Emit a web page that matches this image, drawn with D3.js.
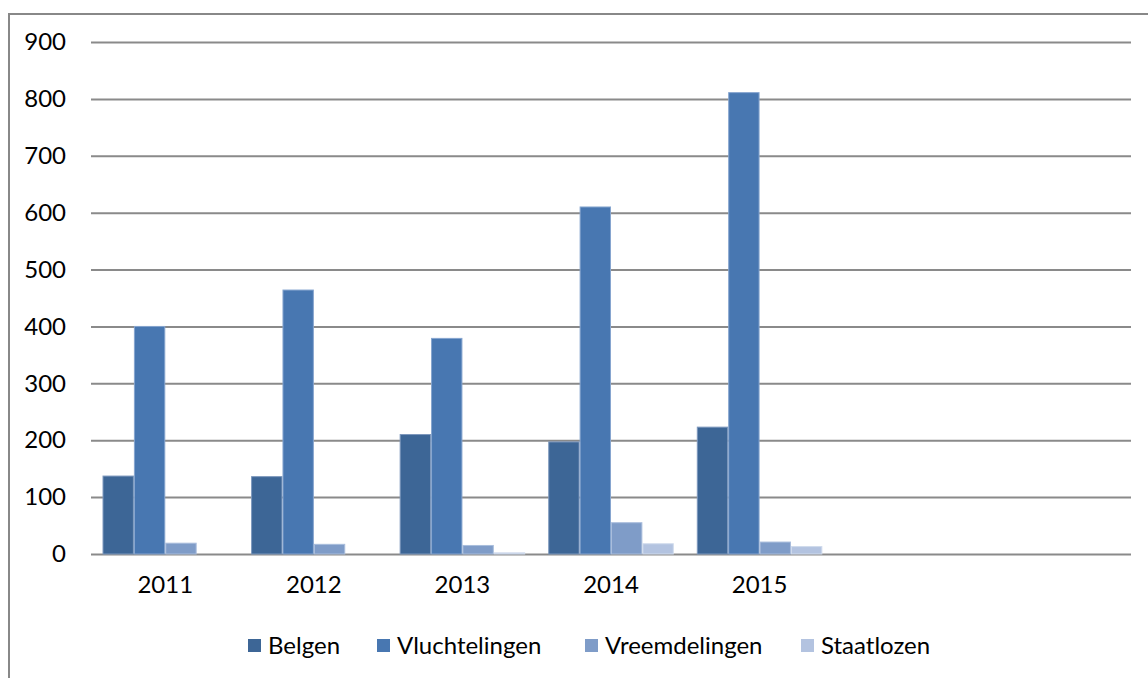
<!DOCTYPE html>
<html>
<head>
<meta charset="utf-8">
<script src="https://cdn.jsdelivr.net/npm/d3@7"></script>
<style>
  body { margin: 0; background: #fff; }
  text { font-family: Lato, "Open Sans", sans-serif; fill: #000; }
</style>
</head>
<body>
<div id="chart"></div>
<script>
// data
var years = ["2011", "2012", "2013", "2014", "2015"];
var emptySlots = ["", " "];
var seriesNames = ["Belgen", "Vluchtelingen", "Vreemdelingen", "Staatlozen"];
var belgen = [137, 136, 210, 197, 223];
var vluchtelingen = [400, 464, 379, 610, 811];
var vreemdelingen = [19, 17, 15, 55, 21];
var staatlozen = [0, 0, 2, 18, 13];
var yTicks = [0, 100, 200, 300, 400, 500, 600, 700, 800, 900];

var colors = ["#3d6696", "#4877b1", "#7f9cc8", "#b3c3e0"];
var strokes = ["#7d98bd", "#86a5cf", "#a9bddc", "#cfdaec"];

var svgWidth = 1148;
var svgHeight = 678;
var margin = { top: 42, right: 17, bottom: 124, left: 91 };
var width = svgWidth - margin.left - margin.right;
var height = svgHeight - margin.top - margin.bottom;

var svg = d3.select("#chart")
  .append("svg")
  .attr("width", svgWidth)
  .attr("height", svgHeight);

// outer frame (cut off at right/bottom like the picture)
svg.append("rect")
  .attr("x", 9)
  .attr("y", 14)
  .attr("width", svgWidth)
  .attr("height", svgHeight)
  .attr("fill", "none")
  .attr("stroke", "#888")
  .attr("stroke-width", 2);

var g = svg.append("g")
  .attr("transform", `translate(${margin.left}, ${margin.top})`);

var table = years.map(function(y, i) {
  return { year: y, values: [belgen[i], vluchtelingen[i], vreemdelingen[i], staatlozen[i]] };
});

var x0 = d3.scaleBand()
  .domain(years.concat(emptySlots))
  .range([0, width])
  .paddingInner(0.155)
  .paddingOuter(0.0775);

var x1 = d3.scaleBand()
  .domain(d3.range(seriesNames.length))
  .range([0, x0.bandwidth()]);

var y = d3.scaleLinear()
  .domain([0, 900])
  .range([height, 0]);

// gridlines + y labels
var yAxis = g.append("g")
  .call(d3.axisLeft(y).tickValues(yTicks).tickSize(-width).tickPadding(25));
yAxis.select(".domain").remove();
yAxis.selectAll(".tick line")
  .attr("stroke", "#8a8a8a")
  .attr("stroke-width", 2);
yAxis.selectAll(".tick text")
  .style("font-size", "24px")
  .attr("fill", "#000");

// bars
var groups = g.selectAll(".year")
  .data(table)
  .enter()
  .append("g")
  .attr("class", "year")
  .attr("transform", d => `translate(${x0.step() * years.indexOf(d.year) + x0(years[0])}, 0)`);

groups.selectAll("rect")
  .data(d => d.values.map((v, i) => ({ i: i, v: v })))
  .enter()
  .append("rect")
  .attr("x", d => x1(d.i) + 0.5)
  .attr("y", d => y(d.v))
  .attr("width", x1.bandwidth() - 1)
  .attr("height", d => height - y(d.v))
  .attr("fill", d => colors[d.i])
  .attr("stroke", d => d.v > 0 ? strokes[d.i] : "none")
  .attr("stroke-width", 1);

// x labels
var xAxis = g.append("g")
  .attr("transform", `translate(0, ${height})`)
  .call(d3.axisBottom(x0).tickSize(0).tickPadding(22));
xAxis.select(".domain").remove();
xAxis.selectAll(".tick text")
  .style("font-size", "24px")
  .attr("fill", "#000");

// legend
var legendX = [248, 377, 585, 801];
var legend = svg.append("g");
seriesNames.forEach(function(name, i) {
  legend.append("rect")
    .attr("x", legendX[i])
    .attr("y", 639)
    .attr("width", 13)
    .attr("height", 13)
    .attr("fill", colors[i]);
  legend.append("text")
    .attr("x", legendX[i] + 20)
    .attr("y", 654)
    .style("font-size", "24px")
    .text(name);
});
</script>
</body>
</html>
